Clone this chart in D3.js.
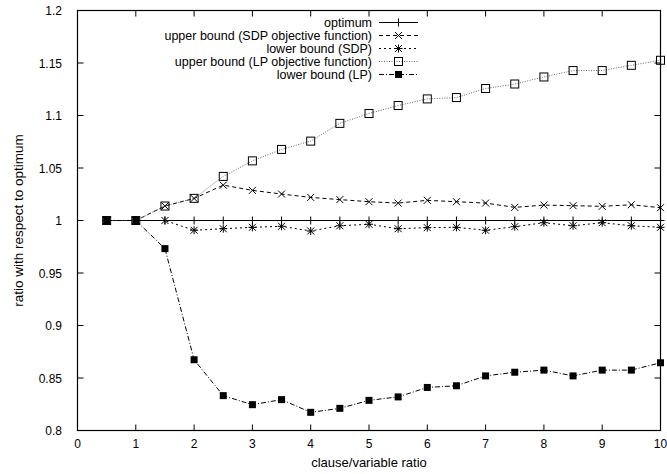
<!DOCTYPE html>
<html>
<head>
<meta charset="utf-8">
<script src="https://cdn.jsdelivr.net/npm/d3@7.9.0/dist/d3.min.js"></script>
<style>
  body { margin: 0; background: #fff; }
  svg { display: block; }
  text { font-family: "Liberation Sans", Arial, sans-serif; font-size: 13px; fill: #000; }
  text.tick { font-size: 12px; }
  text.key { font-size: 12.5px; }
  text.ylab { font-size: 13.5px; }
</style>
</head>
<body>
<svg width="667" height="474"></svg>
<script>
// data
const ratios = [0.5, 1, 1.5, 2, 2.5, 3, 3.5, 4, 4.5, 5, 5.5, 6, 6.5, 7, 7.5, 8, 8.5, 9, 9.5, 10];
const optimum = ratios.map(() => 1);
const sdpUpper = [1, 1, 1.0138, 1.021, 1.0337, 1.0287, 1.0252, 1.022, 1.0199, 1.0179, 1.0166, 1.0192, 1.0179, 1.0166, 1.0125, 1.0147, 1.0141, 1.0135, 1.015, 1.0122];
const sdpLower = [1, 1, 1.0, 0.9907, 0.9922, 0.9935, 0.9945, 0.99, 0.995, 0.9964, 0.9922, 0.9932, 0.9935, 0.9907, 0.9941, 0.9979, 0.995, 0.9979, 0.995, 0.9935];
const lpUpper = [1, 1, 1.0138, 1.0211, 1.042, 1.0568, 1.0677, 1.0756, 1.0925, 1.1019, 1.1095, 1.1158, 1.1171, 1.1257, 1.13, 1.1367, 1.1428, 1.1428, 1.1478, 1.1526];
const lpLower = [1, 1, 0.9732, 0.8674, 0.8332, 0.8246, 0.8294, 0.8173, 0.8211, 0.8287, 0.832, 0.841, 0.8426, 0.852, 0.8555, 0.8575, 0.852, 0.8575, 0.8575, 0.8645];

const xTicks = [0, 1, 2, 3, 4, 5, 6, 7, 8, 9, 10];
const yTicks = [0.8, 0.85, 0.9, 0.95, 1, 1.05, 1.1, 1.15, 1.2];

const series = [
  { name: 'optimum', values: optimum, dash: null, marker: 'plus' },
  { name: 'upper bound (SDP objective function)', values: sdpUpper, dash: '4,3', marker: 'cross' },
  { name: 'lower bound (SDP)', values: sdpLower, dash: '2,3', marker: 'star' },
  { name: 'upper bound (LP objective function)', values: lpUpper, dash: '1,1.5', marker: 'box', color: '#666' },
  { name: 'lower bound (LP)', values: lpLower, dash: '5,2,1,2', marker: 'fbox' }
];

const svg = d3.select('svg');
const x = d3.scaleLinear().domain([0, 10]).range([77.5, 660.5]);
const y = d3.scaleLinear().domain([0.8, 1.2]).range([430.5, 10.5]);

// markers
function drawMarker(g, kind, cx, cy) {
  const s = 4;
  if (kind === 'plus' || kind === 'star') {
    g.append('path').attr('d', `M${cx - s},${cy}H${cx + s}M${cx},${cy - s}V${cy + s}`)
      .attr('stroke', '#000').attr('stroke-width', 1).attr('fill', 'none');
  }
  if (kind === 'cross' || kind === 'star') {
    const t = 3.5;
    g.append('path').attr('d', `M${cx - t},${cy - t}L${cx + t},${cy + t}M${cx - t},${cy + t}L${cx + t},${cy - t}`)
      .attr('stroke', '#000').attr('stroke-width', 1).attr('fill', 'none');
  }
  if (kind === 'box') {
    g.append('rect').attr('x', cx - 4).attr('y', cy - 4).attr('width', 8).attr('height', 8)
      .attr('fill', 'none').attr('stroke', '#000').attr('stroke-width', 1);
  }
  if (kind === 'fbox') {
    g.append('rect').attr('x', cx - 3.5).attr('y', cy - 3.5).attr('width', 7).attr('height', 7)
      .attr('fill', '#000');
  }
}

// ticks inside the frame, mirrored
const tk = svg.append('g').attr('stroke', '#000').attr('stroke-width', 1);
xTicks.forEach(v => {
  tk.append('line').attr('x1', x(v)).attr('x2', x(v)).attr('y1', y(0.8)).attr('y2', y(0.8) - 6);
  tk.append('line').attr('x1', x(v)).attr('x2', x(v)).attr('y1', y(1.2)).attr('y2', y(1.2) + 6);
  svg.append('text').attr('class', 'tick').attr('x', x(v)).attr('y', 448).attr('text-anchor', 'middle').text(v);
});
yTicks.forEach(v => {
  tk.append('line').attr('x1', x(0)).attr('x2', x(0) + 6).attr('y1', y(v)).attr('y2', y(v));
  tk.append('line').attr('x1', x(10)).attr('x2', x(10) - 6).attr('y1', y(v)).attr('y2', y(v));
  svg.append('text').attr('class', 'tick').attr('x', 62).attr('y', y(v) + 4.5).attr('text-anchor', 'end').text(v);
});

const line = d3.line().x((d, i) => x(ratios[i])).y(d => y(d));

series.forEach(s => {
  const g = svg.append('g');
  g.append('path').datum(s.values).attr('d', line)
    .attr('fill', 'none').attr('stroke', s.color || '#000').attr('stroke-width', 1)
    .attr('stroke-dasharray', s.dash);
  s.values.forEach((v, i) => drawMarker(g, s.marker, x(ratios[i]), y(v)));
});

// legend
series.forEach((s, i) => {
  const ly = 22.5 + i * 13;
  svg.append('text').attr('class', 'key').attr('x', 372).attr('y', ly + 4.5).attr('text-anchor', 'end').text(s.name);
  const g = svg.append('g');
  g.append('line').attr('x1', 379).attr('x2', 418).attr('y1', ly).attr('y2', ly)
    .attr('stroke', s.color || '#000').attr('stroke-width', 1).attr('stroke-dasharray', s.dash);
  drawMarker(g, s.marker, 398.5, ly);
});

// frame
svg.append('rect').attr('x', x(0)).attr('y', y(1.2)).attr('width', x(10) - x(0)).attr('height', y(0.8) - y(1.2))
  .attr('fill', 'none').attr('stroke', '#000').attr('stroke-width', 1.2);

// axis titles
svg.append('text').attr('x', x(5)).attr('y', 467).attr('text-anchor', 'middle').text('clause/variable ratio');
svg.append('text').attr('class', 'ylab').attr('transform', `translate(23,${y(1)}) rotate(-90)`).attr('text-anchor', 'middle')
  .text('ratio with respect to optimum');
</script>
</body>
</html>
